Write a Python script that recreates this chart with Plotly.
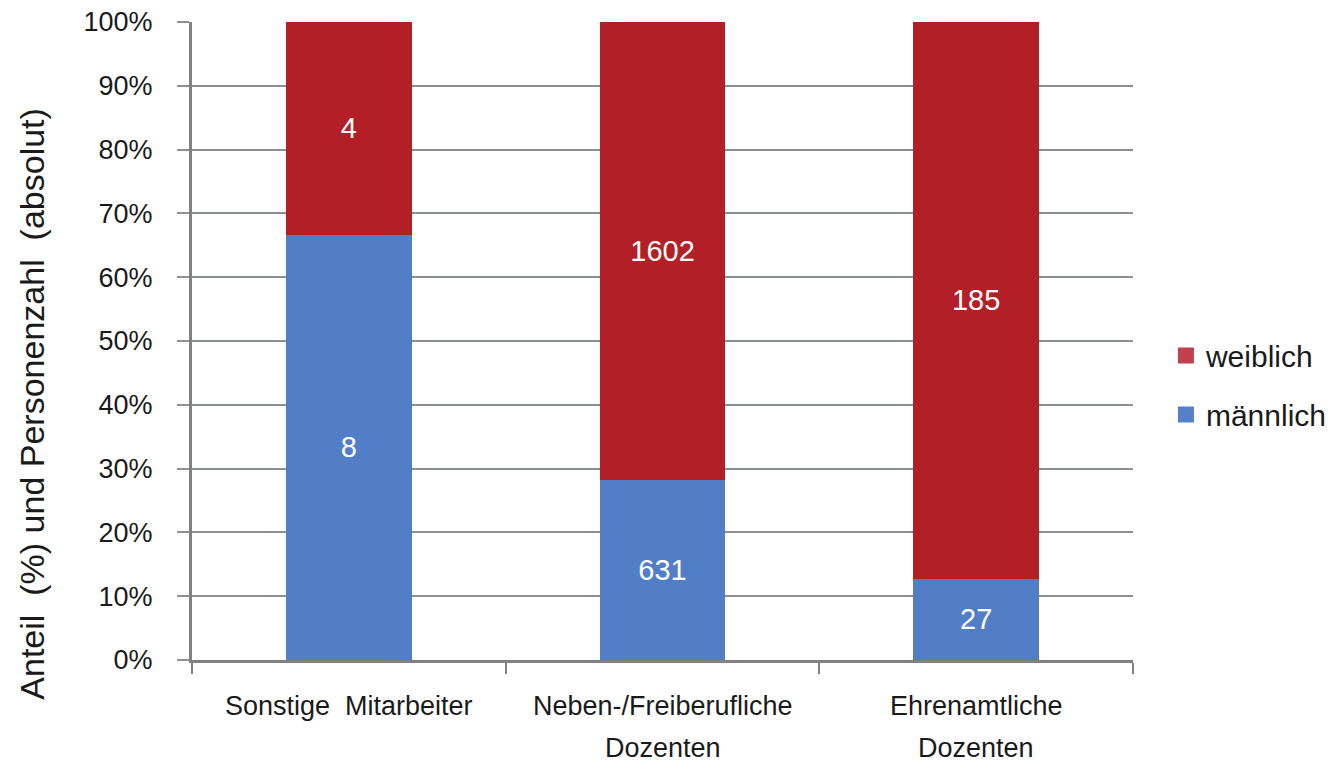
import plotly.graph_objects as go

categories = ["Sonstige Mitarbeiter", "Neben-/Freiberufliche Dozenten", "Ehrenamtliche Dozenten"]
label_line1 = ["Sonstige  Mitarbeiter", "Neben-/Freiberufliche", "Ehrenamtliche"]
label_line2 = ["", "Dozenten", "Dozenten"]
maennlich = [8, 631, 27]
weiblich = [4, 1602, 185]
y_ticks = [0, 10, 20, 30, 40, 50, 60, 70, 80, 90, 100]

totals = [m + w for m, w in zip(maennlich, weiblich)]
pct_m = [m / t * 100 for m, t in zip(maennlich, totals)]
pct_w = [w / t * 100 for w, t in zip(weiblich, totals)]

FONT = "Liberation Sans, Arial, sans-serif"
TXT = "#1a1a1a"
BLUE = "#527ec7"
RED = "#b31f26"

fig = go.Figure()
fig.add_trace(go.Bar(
    x=categories, y=pct_m, name="männlich", marker=dict(color=BLUE, line=dict(width=0)),
    text=[str(v) for v in maennlich], textposition="inside", insidetextanchor="middle",
    textfont=dict(color="white", size=29, family=FONT), showlegend=False,
    hoverinfo="skip"))
fig.add_trace(go.Bar(
    x=categories, y=pct_w, name="weiblich", marker=dict(color=RED, line=dict(width=0)),
    text=[str(v) for v in weiblich], textposition="inside", insidetextanchor="middle",
    textfont=dict(color="white", size=29, family=FONT), showlegend=False,
    hoverinfo="skip"))

# legend-only markers
fig.add_trace(go.Scatter(x=[None], y=[None], mode="markers", name="weiblich",
                         marker=dict(symbol="square", size=19, color="#c0404f"),
                         legendgroup="w"))
fig.add_trace(go.Scatter(x=[None], y=[None], mode="markers", name="männlich",
                         marker=dict(symbol="square", size=19, color="#5580c8"),
                         legendgroup="m"))

for i, cat in enumerate(categories):
    fig.add_annotation(x=cat, xref="x", y=-0.0721, yref="paper", text=label_line1[i],
                       showarrow=False, xanchor="center", yanchor="middle",
                       font=dict(size=27, family=FONT, color=TXT))
    if label_line2[i]:
        fig.add_annotation(x=cat, xref="x", y=-0.138, yref="paper", text=label_line2[i],
                           showarrow=False, xanchor="center", yanchor="middle",
                           font=dict(size=27, family=FONT, color=TXT))

fig.add_annotation(x=-0.1695, xref="paper", y=0.401, yref="paper",
                   text="Anteil  (%) und Personenzahl  (absolut)", textangle=-90,
                   showarrow=False, xanchor="center", yanchor="middle",
                   font=dict(size=34, family=FONT, color=TXT))

fig.update_layout(
    barmode="stack", bargap=0.6,
    width=1340, height=764,
    margin=dict(l=192, r=207, t=22, b=104, autoexpand=False),
    plot_bgcolor="white", paper_bgcolor="white",
    legend=dict(x=1.035, y=0.431, xanchor="left", yanchor="middle",
                font=dict(size=30, family=FONT, color=TXT),
                traceorder="grouped", tracegroupgap=17, itemsizing="trace"),
)
fig.update_xaxes(
    type="category", showticklabels=False, showgrid=False,
    showline=True, linecolor="#808085", linewidth=3,
    ticks="outside", tickson="boundaries", ticklen=11, tickwidth=2, tickcolor="#808085",
)
fig.update_yaxes(
    range=[0, 100], tickvals=y_ticks, ticktext=[f"{v}%" for v in y_ticks],
    showgrid=True, gridcolor="#8c8f93", gridwidth=2,
    showline=True, linecolor="#808085", linewidth=3,
    ticks="outside", ticklen=12, tickwidth=2, tickcolor="#8c8f93",
    tickfont=dict(size=27, family=FONT, color=TXT), ticklabelstandoff=19,
    zeroline=False,
)

fig.write_html("out.html", config={"displayModeBar": False},
               post_script="document.body.style.margin='0';document.body.style.overflow='hidden';")
